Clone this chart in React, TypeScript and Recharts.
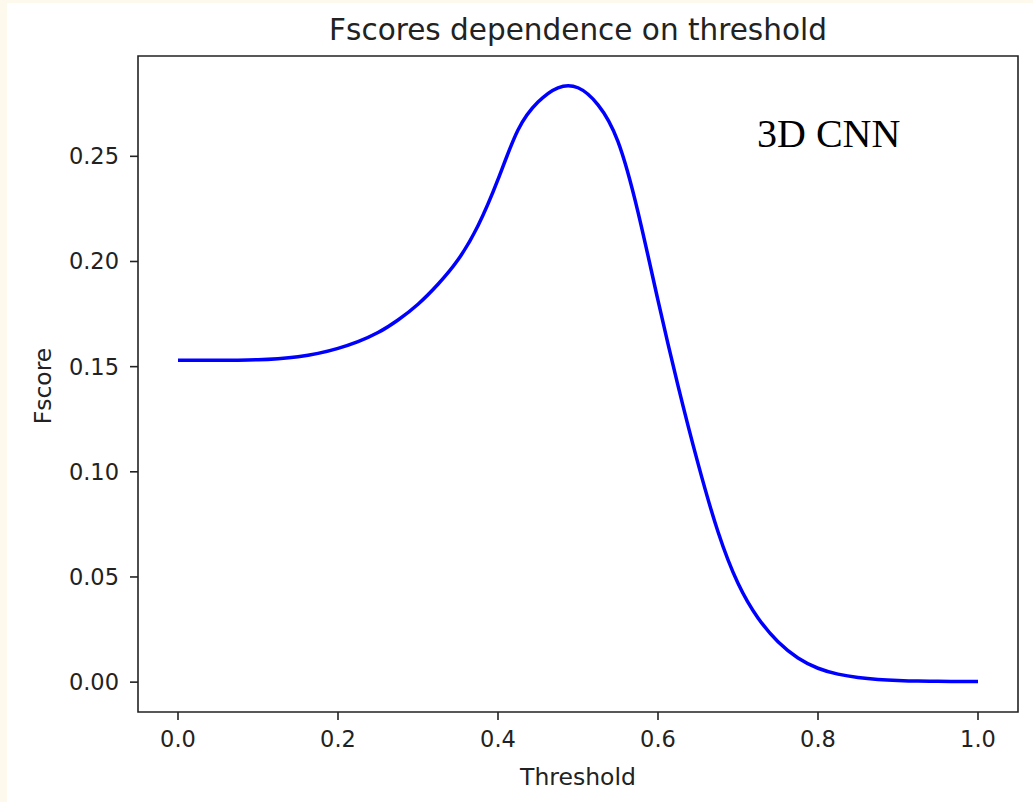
import React from 'react';
import { LineChart, Line, XAxis, YAxis, ReferenceArea } from 'recharts';

// values
const thresholds = [
  0, 0.025, 0.05, 0.075, 0.1, 0.125, 0.15, 0.175, 0.2, 0.225,
  0.25, 0.275, 0.3, 0.325, 0.35, 0.375, 0.4, 0.425, 0.45, 0.475,
  0.5, 0.525, 0.55, 0.575, 0.6, 0.625, 0.65, 0.675, 0.7, 0.725,
  0.75, 0.775, 0.8, 0.825, 0.85, 0.875, 0.9, 0.925, 0.95, 0.975, 1,
];
const fscores = [
  0.153, 0.153, 0.153, 0.1531, 0.1533, 0.1538, 0.1547, 0.1563, 0.1587, 0.1619,
  0.1662, 0.1722, 0.1797, 0.1892, 0.2008, 0.217, 0.239, 0.2625, 0.2758, 0.2826,
  0.2826, 0.2745, 0.257, 0.2235, 0.1815, 0.141, 0.104, 0.0715, 0.047, 0.0305,
  0.0192, 0.0115, 0.0066, 0.0038, 0.0022, 0.0013, 0.0008, 0.0005, 0.0004, 0.0003, 0.0003,
];
const xTicks = [0, 0.2, 0.4, 0.6, 0.8, 1.0];
const yTicks = [0, 0.05, 0.1, 0.15, 0.2, 0.25];

const data = thresholds.map((t, i) => ({ t, f: fscores[i] }));

const X_DOMAIN: [number, number] = [-0.05, 1.05];
const Y_DOMAIN: [number, number] = [-0.0142, 0.2977];

const ink = '#222';
const tickStyle = { fill: ink, fontSize: 22.5, fontFamily: 'DejaVu Sans' };

export default function App() {
  return (
    <div
      style={{
        position: 'fixed',
        left: 0,
        top: 0,
        width: 1033,
        height: 802,
        background: '#fdf9ec',
        overflow: 'hidden',
      }}
    >
      <div
        style={{
          position: 'absolute',
          left: 7,
          top: 3,
          width: 1026,
          height: 799,
          background: '#fff',
        }}
      />
      <div style={{ position: 'absolute', left: 0, top: 0 }}>
        <LineChart
          width={1033}
          height={802}
          data={data}
          margin={{ top: 56, right: 15, bottom: 10, left: 0 }}
        >
          <XAxis
            dataKey="t"
            type="number"
            domain={X_DOMAIN}
            ticks={xTicks}
            allowDataOverflow
            height={80}
            axisLine={false}
            tickSize={8}
            tickMargin={11}
            tickLine={{ stroke: ink, strokeWidth: 1.6 }}
            tick={tickStyle}
            tickFormatter={(v: number) => v.toFixed(1)}
          />
          <YAxis
            type="number"
            domain={Y_DOMAIN}
            ticks={yTicks}
            allowDataOverflow
            width={138}
            axisLine={false}
            tickSize={8}
            tickMargin={11}
            tickLine={{ stroke: ink, strokeWidth: 1.6 }}
            tick={tickStyle}
            tickFormatter={(v: number) => v.toFixed(2)}
          />
          <ReferenceArea
            x1={X_DOMAIN[0]}
            x2={X_DOMAIN[1]}
            y1={Y_DOMAIN[0]}
            y2={Y_DOMAIN[1]}
            fill="none"
            fillOpacity={0}
            stroke={ink}
            strokeWidth={1.6}
            ifOverflow="extendDomain"
          />
          <Line
            type="natural"
            dataKey="f"
            stroke="#0000ff"
            strokeWidth={3.5}
            dot={false}
            isAnimationActive={false}
          />
        </LineChart>
      </div>
      <svg
        width={1033}
        height={802}
        style={{ position: 'absolute', left: 0, top: 0, pointerEvents: 'none' }}
      >
        <text
          x={578}
          y={40}
          textAnchor="middle"
          fontFamily="DejaVu Sans"
          fontSize={29.5}
          fill={ink}
        >
          Fscores dependence on threshold
        </text>
        <text
          x={578}
          y={785}
          textAnchor="middle"
          fontFamily="DejaVu Sans"
          fontSize={23.5}
          fill={ink}
        >
          Threshold
        </text>
        <text
          x={51}
          y={386}
          transform="rotate(-90 51 386)"
          textAnchor="middle"
          fontFamily="DejaVu Sans"
          fontSize={23.5}
          fill={ink}
        >
          Fscore
        </text>
        <text
          x={757}
          y={147}
          fontFamily="Liberation Serif"
          fontSize={40}
          fill="#000"
        >
          3D CNN
        </text>
      </svg>
    </div>
  );
}
